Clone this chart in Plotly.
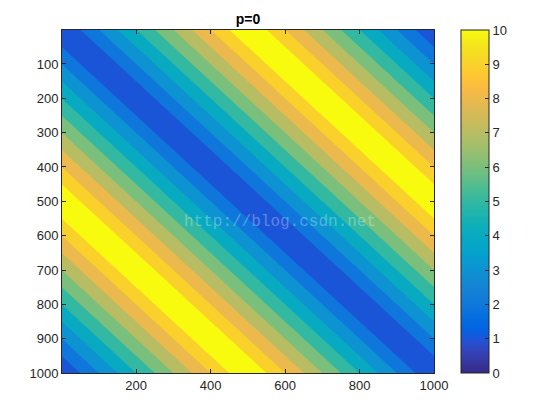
import numpy as np
import plotly.graph_objects as go

# ---- data ----
# value along the anti-diagonal profile: offset d = x - y  -> z
diag_offsets = [-1000, -500, 0, 500, 1000]
diag_values = [0, 10, 0, 10, 0]
x_coords = list(range(0, 1001, 10))
y_coords = list(range(0, 1001, 10))
contour_levels = [1, 9, 1]          # start, end, size
cbar_ticks = [0, 1, 2, 3, 4, 5, 6, 7, 8, 9, 10]
x_ticks = [200, 400, 600, 800, 1000]
y_ticks = [100, 200, 300, 400, 500, 600, 700, 800, 900, 1000]
title_text = "p=0"
watermark_text = "http://blog.csdn.net"

# ---- parula colormap (style) ----
PARULA = [
    (0.2081, 0.1663, 0.5292), (0.2116, 0.1898, 0.5777), (0.2123, 0.2138, 0.6270), (0.2081, 0.2386, 0.6771),
    (0.1959, 0.2645, 0.7279), (0.1707, 0.2919, 0.7792), (0.1253, 0.3242, 0.8303), (0.0591, 0.3598, 0.8683),
    (0.0117, 0.3875, 0.8820), (0.0060, 0.4086, 0.8828), (0.0165, 0.4266, 0.8786), (0.0329, 0.4430, 0.8720),
    (0.0498, 0.4586, 0.8641), (0.0629, 0.4737, 0.8554), (0.0723, 0.4887, 0.8467), (0.0779, 0.5040, 0.8384),
    (0.0793, 0.5200, 0.8312), (0.0749, 0.5375, 0.8263), (0.0641, 0.5570, 0.8240), (0.0488, 0.5772, 0.8228),
    (0.0343, 0.5966, 0.8199), (0.0265, 0.6137, 0.8135), (0.0239, 0.6287, 0.8038), (0.0231, 0.6418, 0.7913),
    (0.0228, 0.6535, 0.7768), (0.0267, 0.6642, 0.7607), (0.0384, 0.6743, 0.7436), (0.0590, 0.6838, 0.7254),
    (0.0843, 0.6928, 0.7062), (0.1133, 0.7015, 0.6859), (0.1453, 0.7098, 0.6646), (0.1801, 0.7177, 0.6424),
    (0.2178, 0.7250, 0.6193), (0.2586, 0.7317, 0.5954), (0.3022, 0.7376, 0.5712), (0.3482, 0.7424, 0.5473),
    (0.3953, 0.7459, 0.5244), (0.4420, 0.7481, 0.5033), (0.4871, 0.7491, 0.4840), (0.5300, 0.7491, 0.4661),
    (0.5709, 0.7485, 0.4494), (0.6099, 0.7473, 0.4337), (0.6473, 0.7456, 0.4188), (0.6834, 0.7435, 0.4044),
    (0.7184, 0.7411, 0.3905), (0.7525, 0.7384, 0.3768), (0.7858, 0.7356, 0.3633), (0.8185, 0.7327, 0.3498),
    (0.8507, 0.7299, 0.3360), (0.8824, 0.7274, 0.3217), (0.9139, 0.7258, 0.3063), (0.9450, 0.7261, 0.2886),
    (0.9739, 0.7314, 0.2666), (0.9938, 0.7455, 0.2403), (0.9990, 0.7653, 0.2164), (0.9955, 0.7861, 0.1967),
    (0.9880, 0.8066, 0.1794), (0.9789, 0.8271, 0.1633), (0.9697, 0.8481, 0.1475), (0.9626, 0.8705, 0.1309),
    (0.9589, 0.8949, 0.1132), (0.9598, 0.9218, 0.0948), (0.9661, 0.9514, 0.0755), (0.9763, 0.9831, 0.0538),
]


def rgb(c):
    return "rgb(%d,%d,%d)" % tuple(int(round(v * 255)) for v in c)


def parula_at(t):
    p = t * (len(PARULA) - 1)
    i = min(int(np.floor(p)), len(PARULA) - 2)
    f = p - i
    a, b = PARULA[i], PARULA[i + 1]
    return tuple(a[k] + (b[k] - a[k]) * f for k in range(3))


parula_scale = [[i / (len(PARULA) - 1), rgb(c)] for i, c in enumerate(PARULA)]

c_start, c_end, c_size = contour_levels
n_bands = int(round((c_end - c_start) / c_size)) + 2          # regions incl. below/above
cmin, cmax = cbar_ticks[0], cbar_ticks[-1]
band_scale = []
for j in range(n_bands):
    level_hi = c_start + j * c_size                            # upper edge of band j
    t = (level_hi - cmin) / (cmax - cmin)
    band_scale.append([j / (n_bands - 1), rgb(parula_at(t))])

# ---- grid table for the contour ----
X, Y = np.meshgrid(np.array(x_coords, float), np.array(y_coords, float))
Z = np.interp(X - Y, diag_offsets, diag_values)

fig = go.Figure()
fig.add_trace(go.Contour(
    x=x_coords, y=y_coords, z=Z,
    autocontour=False,
    contours=dict(start=c_start, end=c_end, size=c_size, coloring="fill", showlines=False),
    line=dict(width=0),
    colorscale=band_scale,
    showscale=False,
    hoverinfo="skip",
))
fig.add_trace(go.Scatter(
    x=[None], y=[None], mode="markers", showlegend=False, hoverinfo="skip",
    marker=dict(
        color=[cmin], cmin=cmin, cmax=cmax, colorscale=parula_scale, showscale=True,
        colorbar=dict(
            x=1.0726, xanchor="left", xpad=0, ypad=0,
            y=0.5, yanchor="middle", len=1, lenmode="fraction",
            thickness=28, thicknessmode="pixels",
            outlinewidth=1, outlinecolor="#262626",
            tickvals=cbar_ticks, ticks="inside", ticklen=4, tickcolor="#262626",
            tickfont=dict(size=13, color="#262626"),
        ),
    ),
))

axis_common = dict(
    showline=True, linecolor="#262626", linewidth=1, mirror="ticks",
    ticks="inside", ticklen=4, tickcolor="#262626",
    showgrid=False, zeroline=False,
    tickfont=dict(size=13, color="#262626"),
)
fig.update_xaxes(range=[1, 1000], tickvals=x_ticks, **axis_common)
fig.update_yaxes(range=[1000, 1], tickvals=y_ticks, **axis_common)

fig.add_annotation(
    text=watermark_text, x=0.586, y=0.44, xref="paper", yref="paper",
    xanchor="center", yanchor="middle", showarrow=False,
    font=dict(family="Liberation Mono, DejaVu Sans Mono, monospace", size=16,
              color="rgba(255,255,255,0.3)"),
)

fig.update_layout(
    width=560, height=420,
    margin=dict(l=62, r=126, t=30, b=47),
    paper_bgcolor="white", plot_bgcolor="white",
    font=dict(family="Liberation Sans, Arial, sans-serif", size=13, color="#262626"),
    title=dict(text="<b>%s</b>" % title_text, x=0.443, xanchor="center",
               y=0.955, yanchor="middle", font=dict(size=14, color="black")),
    showlegend=False,
)

fig.write_html("out.html", config={"displayModeBar": False},
               post_script="document.body.style.margin='0';")
